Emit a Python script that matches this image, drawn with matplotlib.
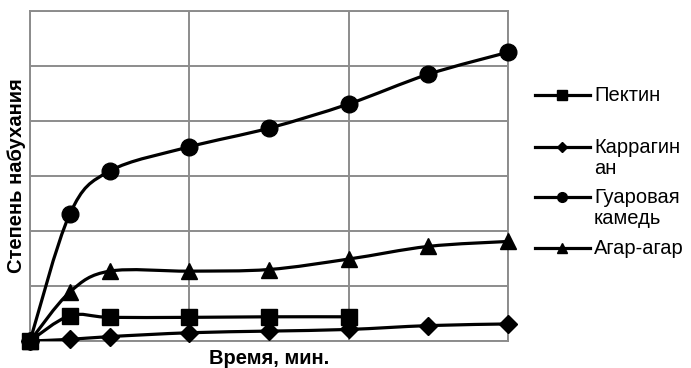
import numpy as np
import matplotlib
matplotlib.use("Agg")
import matplotlib.pyplot as plt
from matplotlib.path import Path
from matplotlib.patches import PathPatch
from matplotlib.lines import Line2D

plt.rcParams['font.family'] = ['Liberation Sans', 'DejaVu Sans']

# time, min
t_all = [0, 5, 10, 20, 30, 40, 50, 60]
t_pectin = [0, 5, 10, 20, 30, 40]

# swelling degree (units of one grid step)
pectin = [0, 0.46, 0.43, 0.43, 0.44, 0.44]
carrageenan = [0, 0.03, 0.08, 0.15, 0.18, 0.21, 0.28, 0.31]
guar = [0, 2.31, 3.09, 3.53, 3.87, 4.31, 4.85, 5.25]
agar = [0, 0.89, 1.27, 1.27, 1.30, 1.49, 1.72, 1.81]

labels = ["Пектин", "Каррагин\nан", "Гуаровая\nкамедь", "Агар-агар"]
markers = ["s", "D", "o", "^"]
msizes = [11, 9.5, 12, 11]
lmsizes = [6.5, 5.5, 7, 6.5]

W, H = 691, 368


def smooth_path(x, y):
    # Excel-style smoothed line: cubic Bezier through the points
    p = np.column_stack([x, y]).astype(float)
    n = len(p)
    verts = [p[0]]
    codes = [Path.MOVETO]
    for i in range(n - 1):
        p0 = p[i - 1] if i > 0 else p[i]
        p3 = p[i + 2] if i + 2 < n else p[i + 1]
        c1 = p[i] + (p[i + 1] - p0) / 6
        c2 = p[i + 1] - (p3 - p[i]) / 6
        verts += [c1, c2, p[i + 1]]
        codes += [Path.CURVE4] * 3
    return Path(verts, codes)


fig = plt.figure(figsize=(W / 100, H / 100), dpi=100)
ax = fig.add_axes([30 / W, 1 - 341 / H, 478 / W, 330 / H])
ax.set_xlim(0, 60)
ax.set_ylim(0, 6)
ax.set_xticks([0, 20, 40, 60])
ax.set_yticks(range(7))
ax.tick_params(length=0, labelbottom=False, labelleft=False)
ax.grid(True, color="#8c8c8c", lw=1.4)
for s in ax.spines.values():
    s.set_color("#8c8c8c")
    s.set_linewidth(1.4)

series = [(t_pectin, pectin), (t_all, carrageenan), (t_all, guar), (t_all, agar)]
zs = [6, 3, 4, 5]
for (x, y), m, ms, z in zip(series, markers, msizes, zs):
    ax.add_patch(PathPatch(smooth_path(x, y), fill=False, ec="black",
                           lw=2.3, zorder=z, capstyle="round"))
    ax.plot(x, y, ls="none", marker=m, ms=ms, color="black", clip_on=False,
            zorder=z)

ax.set_xlabel("Время, мин.", fontsize=14.5, fontweight="bold", labelpad=5.5)
ax.set_ylabel("Степень набухания", fontsize=14.5, fontweight="bold", labelpad=3)

# legend drawn by hand so the handle sits on the first text line
leg_y = [95, 147, 197, 248]
for lab, m, lms, yy in zip(labels, markers, lmsizes, leg_y):
    fy = 1 - yy / H
    fig.add_artist(Line2D([535 / W, 590 / W], [fy, fy], color="black", lw=2.3))
    fig.add_artist(Line2D([562 / W], [fy], marker=m, ms=lms, color="black"))
    fig.text(594 / W, fy + 9 / H, lab, fontsize=14.5, va="top", ha="left",
             linespacing=1.15)

fig.savefig("out.png", dpi=100)
